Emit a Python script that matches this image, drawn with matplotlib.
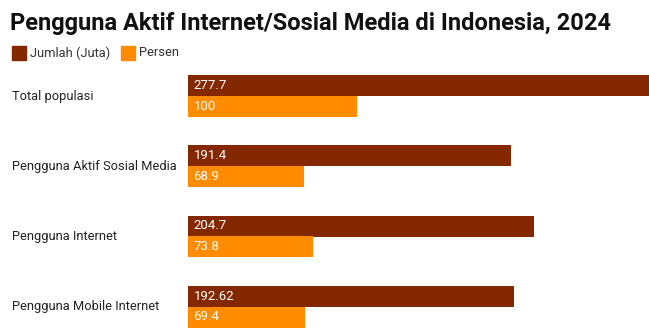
import matplotlib.pyplot as plt
import matplotlib.patches as mpatches
from matplotlib.transforms import blended_transform_factory
import numpy as np

plt.rcParams['font.family'] = ['Roboto', 'DejaVu Sans']

categories = ['Total populasi', 'Pengguna Aktif Sosial Media', 'Pengguna Internet',
              'Pengguna Mobile Internet']
jumlah = [277.7, 191.4, 204.7, 192.62]
persen = [100, 68.9, 73.8, 69.4]
jumlah_labels = ['277.7', '191.4', '204.7', '192.62']
persen_labels = ['100', '68.9', '73.8', '69.4']

c_jumlah = '#832800'
c_persen = '#FF8C00'

W, H = 649, 328
fig = plt.figure(figsize=(W / 100, H / 100), dpi=100)

# axes in pixel terms: left 188, top 61.5, right edge, bottom edge
ax = fig.add_axes([188 / W, 0, 1 - 188 / W, 1 - 61.5 / H])
y = np.arange(len(categories))
h = 0.3
ax.barh(y - h / 2, jumlah, height=h, color=c_jumlah)
ax.barh(y + h / 2, persen, height=h, color=c_persen)
ax.set_xlim(0, 272.8)
ax.set_ylim((H - 96.5) / 70, -0.5)
ax.axis('off')

for i in range(len(categories)):
    ax.annotate(jumlah_labels[i], (0, y[i] - h / 2), xytext=(4, 0), textcoords='offset points',
                va='center', ha='left', color='white', fontsize=9.5)
    ax.annotate(persen_labels[i], (0, y[i] + h / 2), xytext=(4, 0), textcoords='offset points',
                va='center', ha='left', color='white', fontsize=9.5)

tr = blended_transform_factory(fig.transFigure, ax.transData)
for i, cat in enumerate(categories):
    fig.text(12 / W, y[i], cat, transform=tr, ha='left', va='center', fontsize=9.3, color='#222222')

fig.text(10 / W, 1 - 30 / H, 'Pengguna Aktif Internet/Sosial Media di Indonesia, 2024',
         ha='left', va='baseline', fontsize=17, fontweight='bold', color='#111111')

# legend
fig.patches.append(mpatches.Rectangle((12 / W, 1 - 60 / H), 14 / W, 14 / H,
                                      transform=fig.transFigure, color=c_jumlah))
fig.text(30 / W, 1 - 53 / H, 'Jumlah (Juta)', ha='left', va='center', fontsize=9.3, color='#333333')
fig.patches.append(mpatches.Rectangle((121 / W, 1 - 60 / H), 14 / W, 14 / H,
                                      transform=fig.transFigure, color=c_persen))
fig.text(139 / W, 1 - 53 / H, 'Persen', ha='left', va='center', fontsize=9.3, color='#333333')

fig.savefig('out.png', dpi=100)
